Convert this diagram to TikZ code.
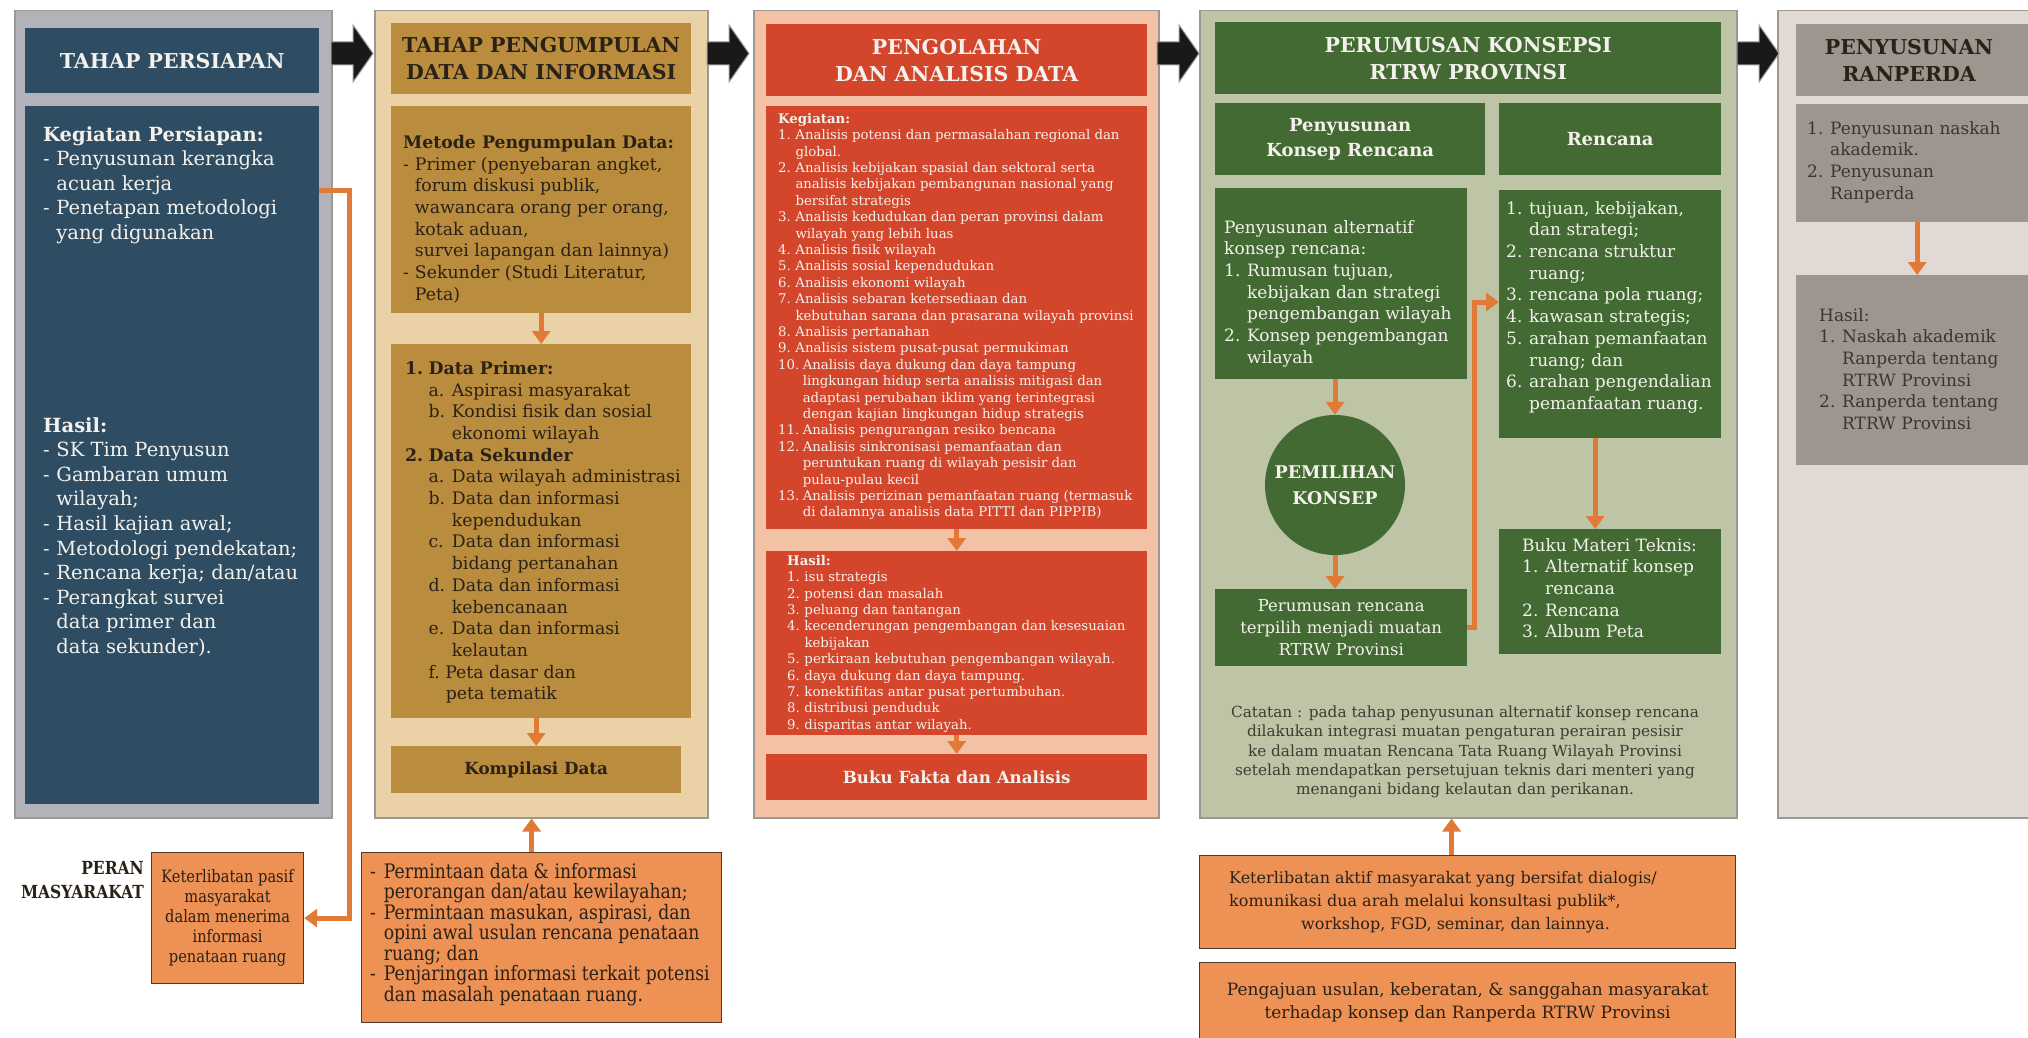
\documentclass[tikz,border=0pt]{standalone}
\usepackage{fontspec}
\setmainfont{DejaVu Serif}
\newfontfamily\sempit[FakeStretch=0.86]{DejaVu Serif}
\usetikzlibrary{positioning}
\usetikzlibrary{arrows.meta}

\definecolor{persiapanbg}{HTML}{B3B2BA}
\definecolor{persiapan}{HTML}{2F4D62}
\definecolor{kumpulbg}{HTML}{EBD2A6}
\definecolor{kumpul}{HTML}{BA8C3D}
\definecolor{olahbg}{HTML}{F3C2A4}
\definecolor{olah}{HTML}{D4462C}
\definecolor{konsepbg}{HTML}{BEC5A7}
\definecolor{konsep}{HTML}{436A33}
\definecolor{ranperdabg}{HTML}{E1D9D4}
\definecolor{ranperda}{HTML}{9E958F}
\definecolor{peran}{HTML}{EE9155}
\definecolor{alur}{HTML}{E07A36}
\definecolor{bingkai}{HTML}{9C9995}
\definecolor{tinta}{HTML}{2A2117}
\definecolor{coklat}{HTML}{4E3A2C}
\definecolor{terang}{HTML}{F4F1EC}
\definecolor{catatan}{HTML}{3C3C34}
\definecolor{abu}{HTML}{3B3532}

\newcommand{\nomor}[2][1.35em]{\makebox[#1][l]{#2}}
\newcommand{\geser}[1][1.35em]{\hspace*{#1}}
\newcommand{\strip}{\makebox[0.68em][l]{-}}
\newcommand{\gesers}{\hspace*{0.68em}}

\tikzset{
        stage_base/.style={anchor=north west, inner sep=0pt},
        % Outer panel of a stage
        stage_panel/.style={stage_base, draw=bingkai, line width=1.5pt},
        % Filled box inside a panel
        stage_box/.style={stage_base},
        % Header of a stage
        stage_header/.style={stage_base, align=center, font=\fontsize{20.5}{27}\selectfont\bfseries},
        % Text block inside a box
        stage_text/.style={stage_base, align=left},
        % Orange flow arrows
        flow_arrow/.style={draw=alur, line width=5pt, -{Triangle[length=13pt,width=18pt]}},
        % Community participation boxes
        peran_box/.style={stage_base, fill=peran, draw=coklat, line width=1.2pt, text=tinta},
        % Black arrows between stages
        stage_arrow/.style={fill=black!90, draw=black!40, line width=1pt}
}

\begin{document}
\begin{tikzpicture}[x=1pt, y=-1pt]
    \useasboundingbox (0,0) rectangle (2028,1038);
    \fill[white] (0,0) rectangle (2028,1038);

    % Tahap persiapan
    \node[stage_panel, fill=persiapanbg, minimum width=317pt, minimum height=807pt] (p1) at (14,10) {};
    \node[stage_header, fill=persiapan, text=terang, minimum width=294pt, minimum height=65pt] (h1) at (25,28) {TAHAP PERSIAPAN};
    \node[stage_box, fill=persiapan, minimum width=294pt, minimum height=698pt] (b1) at (25,106) {};
    \node[stage_text, text=terang, font=\fontsize{19.5}{24.6}\selectfont, below right=20pt and 18pt of b1.north west] (keg1) {%
        \textbf{Kegiatan Persiapan:}\\
        \strip Penyusunan kerangka\\
        \gesers acuan kerja\\
        \strip Penetapan metodologi\\
        \gesers yang digunakan};
    \node[stage_text, text=terang, font=\fontsize{19.5}{24.6}\selectfont, below right=311pt and 18pt of b1.north west] (has1) {%
        \textbf{Hasil:}\\
        \strip SK Tim Penyusun\\
        \strip Gambaran umum\\
        \gesers wilayah;\\
        \strip Hasil kajian awal;\\
        \strip Metodologi pendekatan;\\
        \strip Rencana kerja; dan/atau\\
        \strip Perangkat survei\\
        \gesers data primer dan\\
        \gesers data sekunder).};

    % Tahap pengumpulan data
    \node[stage_panel, fill=kumpulbg, minimum width=333pt, minimum height=807pt] (p2) at (374,10) {};
    \node[stage_header, fill=kumpul, text=tinta, minimum width=300pt, minimum height=71pt] (h2) at (391,23) {TAHAP PENGUMPULAN\\DATA DAN INFORMASI};
    \node[stage_box, fill=kumpul, minimum width=300pt, minimum height=207pt] (m2) at (391,106) {};
    \node[stage_box, fill=kumpul, minimum width=300pt, minimum height=374pt] (d2) at (391,344) {};
    \node[stage_box, fill=kumpul, text=tinta, minimum width=290pt, minimum height=47pt, font=\fontsize{16.7}{20}\selectfont\bfseries] (k2) at (391,746) {Kompilasi Data};
    \node[stage_text, text=tinta, font=\fontsize{17.3}{21.7}\selectfont, below right=29pt and 12pt of m2.north west] (met2) {%
        \textbf{Metode Pengumpulan Data:}\\
        \strip Primer (penyebaran angket,\\
        \gesers forum diskusi publik,\\
        \gesers wawancara orang per orang,\\
        \gesers kotak aduan,\\
        \gesers survei lapangan dan lainnya)\\
        \strip Sekunder (Studi Literatur,\\
        \gesers Peta)};
    \node[stage_text, text=tinta, font=\fontsize{17.3}{21.7}\selectfont, below right=17pt and 14pt of d2.north west] (dat2) {%
        \textbf{\nomor{1.}Data Primer:}\\
        \geser\nomor{a.}Aspirasi masyarakat\\
        \geser\nomor{b.}Kondisi fisik dan sosial\\
        \geser\geser ekonomi wilayah\\
        \textbf{\nomor{2.}Data Sekunder}\\
        \geser\nomor{a.}Data wilayah administrasi\\
        \geser\nomor{b.}Data dan informasi\\
        \geser\geser kependudukan\\
        \geser\nomor{c.}Data dan informasi\\
        \geser\geser bidang pertanahan\\
        \geser\nomor{d.}Data dan informasi\\
        \geser\geser kebencanaan\\
        \geser\nomor{e.}Data dan informasi\\
        \geser\geser kelautan\\
        \geser f.~Peta dasar dan\\
        \geser\hspace*{1em}peta tematik};

    % Pengolahan dan analisis data
    \node[stage_panel, fill=olahbg, minimum width=405pt, minimum height=807pt] (p3) at (753,10) {};
    \node[stage_header, fill=olah, text=terang, minimum width=381pt, minimum height=72pt] (h3) at (766,24) {PENGOLAHAN\\DAN ANALISIS DATA};
    \node[stage_box, fill=olah, minimum width=381pt, minimum height=423pt] (g3) at (766,106) {};
    \node[stage_box, fill=olah, minimum width=381pt, minimum height=184pt] (r3) at (766,551) {};
    \node[stage_box, fill=olah, text=terang, minimum width=381pt, minimum height=46pt, font=\fontsize{16.7}{20}\selectfont\bfseries] (f3) at (766,754) {Buku Fakta dan Analisis};
    \node[stage_text, text=terang, font=\fontsize{13.3}{16.4}\selectfont, below right=7pt and 12pt of g3.north west] (keg3) {%
        \textbf{Kegiatan:}\\
        \nomor[1.3em]{1.}Analisis potensi dan permasalahan regional dan\\
        \geser[1.3em]global.\\
        \nomor[1.3em]{2.}Analisis kebijakan spasial dan sektoral serta\\
        \geser[1.3em]analisis kebijakan pembangunan nasional yang\\
        \geser[1.3em]bersifat strategis\\
        \nomor[1.3em]{3.}Analisis kedudukan dan peran provinsi dalam\\
        \geser[1.3em]wilayah yang lebih luas\\
        \nomor[1.3em]{4.}Analisis fisik wilayah\\
        \nomor[1.3em]{5.}Analisis sosial kependudukan\\
        \nomor[1.3em]{6.}Analisis ekonomi wilayah\\
        \nomor[1.3em]{7.}Analisis sebaran ketersediaan dan\\
        \geser[1.3em]kebutuhan sarana dan prasarana wilayah provinsi\\
        \nomor[1.3em]{8.}Analisis pertanahan\\
        \nomor[1.3em]{9.}Analisis sistem pusat-pusat permukiman\\
        \nomor[1.85em]{10.}Analisis daya dukung dan daya tampung\\
        \geser[1.85em]lingkungan hidup serta analisis mitigasi dan\\
        \geser[1.85em]adaptasi perubahan iklim yang terintegrasi\\
        \geser[1.85em]dengan kajian lingkungan hidup strategis\\
        \nomor[1.85em]{11.}Analisis pengurangan resiko bencana\\
        \nomor[1.85em]{12.}Analisis sinkronisasi pemanfaatan dan\\
        \geser[1.85em]peruntukan ruang di wilayah pesisir dan\\
        \geser[1.85em]pulau-pulau kecil\\
        \nomor[1.85em]{13.}Analisis perizinan pemanfaatan ruang (termasuk\\
        \geser[1.85em]di dalamnya analisis data PITTI dan PIPPIB)};
    \node[stage_text, text=terang, font=\fontsize{13.3}{16.4}\selectfont, below right=4pt and 21pt of r3.north west] (has3) {%
        \textbf{Hasil:}\\
        \nomor[1.3em]{1.}isu strategis\\
        \nomor[1.3em]{2.}potensi dan masalah\\
        \nomor[1.3em]{3.}peluang dan tantangan\\
        \nomor[1.3em]{4.}kecenderungan pengembangan dan kesesuaian\\
        \geser[1.3em]kebijakan\\
        \nomor[1.3em]{5.}perkiraan kebutuhan pengembangan wilayah.\\
        \nomor[1.3em]{6.}daya dukung dan daya tampung.\\
        \nomor[1.3em]{7.}konektifitas antar pusat pertumbuhan.\\
        \nomor[1.3em]{8.}distribusi penduduk\\
        \nomor[1.3em]{9.}disparitas antar wilayah.};

    % Perumusan konsepsi
    \node[stage_panel, fill=konsepbg, minimum width=537pt, minimum height=807pt] (p4) at (1199,10) {};
    \node[stage_header, fill=konsep, text=terang, minimum width=506pt, minimum height=72pt] (h4) at (1215,22) {PERUMUSAN KONSEPSI\\RTRW PROVINSI};
    \node[stage_header, fill=konsep, text=terang, minimum width=270pt, minimum height=72pt, font=\fontsize{18}{25}\selectfont\bfseries] (s4a) at (1215,103) {Penyusunan\\Konsep Rencana};
    \node[stage_header, fill=konsep, text=terang, minimum width=222pt, minimum height=72pt, font=\fontsize{18}{25}\selectfont\bfseries] (s4b) at (1499,103) {Rencana};
    \node[stage_box, fill=konsep, minimum width=252pt, minimum height=191pt] (c4) at (1215,188) {};
    \node[stage_box, fill=konsep, minimum width=222pt, minimum height=248pt] (r4) at (1499,190) {};
    \node[circle, fill=konsep, text=terang, minimum size=140pt, inner sep=0pt, align=center, font=\fontsize{17.5}{26}\selectfont\bfseries] (o4) at (1335,485) {PEMILIHAN\\KONSEP};
    \node[stage_box, fill=konsep, text=terang, minimum width=252pt, minimum height=77pt, align=center, font=\fontsize{16.5}{21.7}\selectfont] (u4) at (1215,589) {Perumusan rencana\\terpilih menjadi muatan\\RTRW Provinsi};
    \node[stage_box, fill=konsep, minimum width=222pt, minimum height=125pt] (m4) at (1499,529) {};
    \node[stage_text, text=terang, font=\fontsize{17}{21.7}\selectfont, below right=32pt and 9pt of c4.north west] (alt4) {%
        Penyusunan alternatif\\
        konsep rencana:\\
        \nomor{1.}Rumusan tujuan,\\
        \geser kebijakan dan strategi\\
        \geser pengembangan wilayah\\
        \nomor{2.}Konsep pengembangan\\
        \geser wilayah};
    \node[stage_text, text=terang, font=\fontsize{17}{21.7}\selectfont, below right=11pt and 7pt of r4.north west] (ren4) {%
        \nomor{1.}tujuan, kebijakan,\\
        \geser dan strategi;\\
        \nomor{2.}rencana struktur\\
        \geser ruang;\\
        \nomor{3.}rencana pola ruang;\\
        \nomor{4.}kawasan strategis;\\
        \nomor{5.}arahan pemanfaatan\\
        \geser ruang; dan\\
        \nomor{6.}arahan pengendalian\\
        \geser pemanfaatan ruang.};
    \node[stage_text, text=terang, font=\fontsize{17}{21.7}\selectfont, below right=9pt and 23pt of m4.north west] (buku4) {%
        Buku Materi Teknis:\\
        \nomor{1.}Alternatif konsep\\
        \geser rencana\\
        \nomor{2.}Rencana\\
        \nomor{3.}Album Peta};
    \node[align=center, text=catatan, font=\fontsize{15.3}{19.2}\selectfont] (cat4) at (1465,752) {%
        Catatan : pada tahap penyusunan alternatif konsep rencana\\
        dilakukan integrasi muatan pengaturan perairan pesisir\\
        ke dalam muatan Rencana Tata Ruang Wilayah Provinsi\\
        setelah mendapatkan persetujuan teknis dari menteri yang\\
        menangani bidang kelautan dan perikanan.};

    % Penyusunan ranperda
    \node[stage_panel, fill=ranperdabg, minimum width=280pt, minimum height=807pt] (p5) at (1777,10) {};
    \node[stage_box, fill=ranperda, minimum width=260pt, minimum height=72pt] (h5) at (1796,24) {};
    \node[align=center, text=tinta, font=\fontsize{20.5}{27}\selectfont\bfseries] (h5t) at (1909,60) {PENYUSUNAN\\RANPERDA};
    \node[stage_box, fill=ranperda, minimum width=260pt, minimum height=118pt] (a5) at (1796,104) {};
    \node[stage_box, fill=ranperda, minimum width=260pt, minimum height=190pt] (b5) at (1796,275) {};
    \node[stage_text, text=abu, font=\fontsize{17}{21.7}\selectfont, below right=17pt and 11pt of a5.north west] (nas5) {%
        \nomor{1.}Penyusunan naskah\\
        \geser akademik.\\
        \nomor{2.}Penyusunan\\
        \geser Ranperda};
    \node[stage_text, text=abu, font=\fontsize{17}{21.7}\selectfont, below right=33pt and 23pt of b5.north west] (has5) {%
        Hasil:\\
        \nomor{1.}Naskah akademik\\
        \geser Ranperda tentang\\
        \geser RTRW Provinsi\\
        \nomor{2.}Ranperda tentang\\
        \geser RTRW Provinsi};

    % Black arrows between stages
    \foreach \x in {331,707,1157,1737}
        \filldraw[stage_arrow] (\x,42) -- ++(22,0) -- ++(0,-17) -- ++(20,28.5) -- ++(-20,28.5) -- ++(0,-17) -- ++(-22,0) -- cycle;

    % Peran masyarakat
    \node[peran_box, minimum width=152pt, minimum height=131pt, align=center, font=\sempit\fontsize{17}{20}\selectfont] (peran) at (151,852) {Keterlibatan pasif\\masyarakat\\dalam menerima\\informasi\\penataan ruang};
    \node[stage_text, align=right, text=tinta, font=\sempit\fontsize{18}{24}\selectfont\bfseries, below left=9pt and 7pt of peran.north west] (lbl) {PERAN\\MASYARAKAT};
    \node[peran_box, minimum width=360pt, minimum height=170pt] (mas2) at (361,852) {};
    \node[stage_text, text=tinta, font=\sempit\fontsize{20}{20.5}\selectfont, below right=11pt and 9pt of mas2.north west] (mas2t) {%
        \strip Permintaan data \& informasi\\
        \gesers perorangan dan/atau kewilayahan;\\
        \strip Permintaan masukan, aspirasi, dan\\
        \gesers opini awal usulan rencana penataan\\
        \gesers ruang; dan\\
        \strip Penjaringan informasi terkait potensi\\
        \gesers dan masalah penataan ruang.};
    \node[peran_box, minimum width=536pt, minimum height=93pt] (mas4) at (1199,855) {};
    \node[stage_text, text=tinta, font=\fontsize{16}{23}\selectfont, below right=16pt and 30pt of mas4.north west] (mas4t) {%
        Keterlibatan aktif masyarakat yang bersifat dialogis/\\
        komunikasi dua arah melalui konsultasi publik*,\\
        \hspace*{72pt}workshop, FGD, seminar, dan lainnya.};
    \node[peran_box, minimum width=536pt, minimum height=80pt, align=center, font=\fontsize{17}{23}\selectfont] (aju4) at (1199,962) {Pengajuan usulan, keberatan, \& sanggahan masyarakat\\terhadap konsep dan Ranperda RTRW Provinsi};

    % Flow arrows
    \draw[flow_arrow] ([yshift=-84pt]b1.north east) -- ++(30,0) |- (peran.east);
    \draw[flow_arrow] (m2.south) -- (d2.north);
    \draw[flow_arrow] (d2.south -| k2.north) -- (k2.north);
    \draw[flow_arrow] ([xshift=-10pt]mas2.north) -- ([xshift=-10pt]mas2.north |- p2.south);
    \draw[flow_arrow] (g3.south) -- (r3.north);
    \draw[flow_arrow] (r3.south) -- (f3.north);
    \draw[flow_arrow] (c4.south -| o4.north) -- (o4.north);
    \draw[flow_arrow] (o4.south) -- (o4.south |- u4.north);
    \draw[flow_arrow] (u4.east) -- ++(7,0) |- ([yshift=-112pt]r4.north west);
    \draw[flow_arrow] ([xshift=-15pt]r4.south) -- ([xshift=-15pt]m4.north);
    \draw[flow_arrow] ([xshift=-16pt]mas4.north) -- ([xshift=-16pt]mas4.north |- p4.south);
    \draw[flow_arrow] ([xshift=-9pt]a5.south) -- ([xshift=-9pt]b5.north);
\end{tikzpicture}
\end{document}
